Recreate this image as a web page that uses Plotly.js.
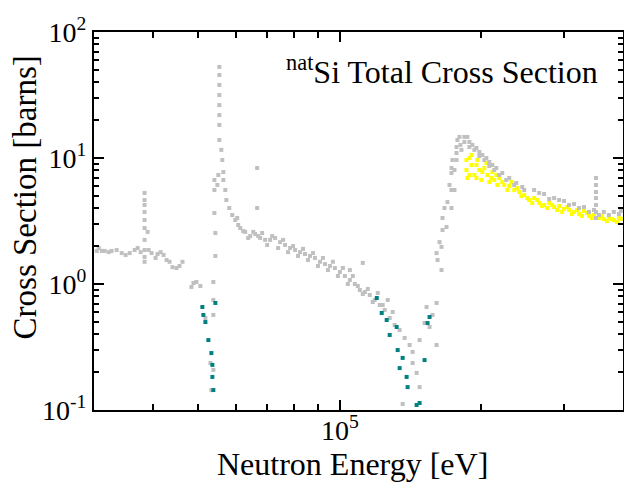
<!DOCTYPE html>
<html>
<head>
<meta charset="utf-8">
<script src="https://cdn.plot.ly/plotly-3.0.1.min.js"></script>
<style>html,body{margin:0;padding:0;background:#fff;}#chart{width:624px;height:491px;}</style>
</head>
<body>
<div id="chart"></div>
<script>
// Grey series (evaluated total cross section), energy [eV] / cross section [barns]
const greyE = [30410,31160,31620,32700,34360,35730,36610,37150,37700,
  38430,38430,38430,38430,38430,38430,38430,38430,38430,38430,39010,
  39770,40950,42170,42800,44060,44940,46270,48340,49530,50500,
  53820,53820,53040,53820,53300,
  54090,54090,54090,54350,54350,
  55420,55420,55420,55420,55420,55420,55420,55420,
  55960,56230,56510,56510,55150,54880,57060,57350,58180,59040,59910,60790,61390,62900,64450,66060,67030,68340,
  66690,66690,69350,71070,72830,74620,76450,78360,80300,82280,84310,86400,88510,90710,92950,95240,97590,
  100000,102470,105000,107600,110250,112980,115750,118600,121550,124540,127620,130750,134000,137310,140700,142780,145600,147750,
  135980,152870,160530,151390,147750,142780,160530,155140,157400,111870,105000,
  164480,161320,160530,164480,162890,165280,168530,165280,166910,172700,169350,172700,175220,171030,172700,172700,175220,173540,
  177010,177010,177010,177830,179560,183980,186680,188540,191330,195120,197970,200900,204840,207860,210940,215070,221460,229180,
  237140,244290,258880,271830,285490,299740,314770,330450,347000,364180,382400,395800,180460,181350,
  350400,350400,350400,350400,350400,350400,350400,
  60490,62290,63830,65430,67680,70040,71770,73900,75730,77600,79510,81470,83480,85540,87660,89820,92040,94320,96650,99030,
  101480,103970,106540,109170,111870,114630,117460,120370,123340,126380,129500,
  183980,188540,193200,197970,202860,207860,213000,218270,225840,234840,246600,265280,278610,292540,307160,322540,338660,355530,373250,392020,
  30710,32240,33520,35030,39200,40560,41560,43430,45600,48820,51760,53820];
const greyS = [1.83,1.83,1.83,1.83,1.76,1.76,1.86,1.93,1.79,
  5.28,4.64,4.24,3.73,3.22,2.78,2.24,1.86,1.64,1.50,2.59,
  1.76,1.73,1.70,1.55,1.36,1.34,1.50,0.947,1.037,0.964,
  0.568,1.037,0.236,0.208,0.144,
  6.69,5.57,3.66,2.54,1.67,
  52.8,45.6,38.0,31.6,26.3,21.9,18.3,13.9,
  11.6,9.64,7.74,6.69,7.33,6.11,5.57,4.64,4.01,3.53,3.22,2.94,2.78,2.59,2.40,2.49,2.40,2.54,
  8.33,4.01,2.24,2.24,2.32,2.15,2.04,1.93,1.86,1.79,1.73,1.67,1.61,1.50,1.44,1.39,1.34,
  1.245,1.157,1.076,1.0,0.896,0.864,0.818,0.746,0.681,0.622,0.537,0.473,0.431,0.373,0.328,0.289,0.197,0.152,
  0.1116,0.657,0.707,0.490,0.359,0.236,0.328,0.456,0.568,1.47,1.29,
  1.29,1.55,1.76,1.97,2.15,2.68,2.83,3.34,4.01,4.01,4.47,5.57,5.57,6.11,7.60,8.33,8.03,9.64,
  9.64,10.96,12.23,13.9,14.7,14.7,14.7,13.4,12.7,12.0,11.16,10.56,10.0,9.30,8.80,8.33,7.60,6.94,
  6.33,5.89,5.57,5.18,4.81,4.56,4.31,4.08,3.87,3.73,3.73,3.80,12.7,11.6,
  6.94,6.11,5.37,4.81,4.24,3.73,3.34,
  3.34,2.63,2.32,2.59,2.32,2.04,2.40,1.93,2.24,1.79,2.00,1.67,1.90,1.55,1.76,1.39,1.61,1.29,1.50,1.157,
  1.34,1.0,1.157,0.964,0.833,0.913,0.720,0.848,0.681,0.746,0.600,
  13.4,12.23,11.6,10.37,9.64,8.64,8.03,7.33,6.69,6.11,5.57,5.28,4.73,4.64,4.24,4.01,3.73,3.53,3.53,3.59,
  1.93,1.79,1.86,1.70,1.86,1.61,1.79,1.50,1.39,1.018,0.537,0.746];

// Teal series (dips)
const tealE = [51000,54350,51250,51760,52520,53300,53560,53820,53560,
  119790,122740,125760,127620,132050,132700,135980,134000,138650,139330,147750,145600,151390,153620,155140];
const tealS = [0.657,0.707,0.568,0.499,0.359,0.283,0.183,0.144,0.228,
  0.774,0.589,0.518,0.394,0.456,0.299,0.259,0.215,0.183,0.152,0.1136,0.1096,0.249,0.490,0.547];

// Yellow series (high-energy data)
const yellowE = [185820,185820,186680,190450,190450,193200,196010,197970,199900,202860,205880,207860,210940,213000,
  216120,218270,223660,226990,231480,234840,240640,246600,252630,258880,265280,271830,278610,285490,292540,
  299740,307160,314770,322540,330450,338660,347000,355530,364180,373250,382400,392020,
  188540,188540,195120,195120,200900,204840,209890,215070,221460,229180,238320,243070,250280,256450,262720,
  269190,275900,282750,289730,296900,304180,311640,319360,327230,335310,343560,360680,369580,378700,388150,395800];
const yellowS = [9.64,8.03,6.94,10.56,8.80,7.33,9.64,8.03,6.69,8.33,7.33,6.45,7.74,6.69,
  6.11,6.94,6.11,5.57,6.45,5.57,5.37,5.09,4.64,4.81,4.39,4.24,4.39,4.08,4.16,
  3.94,3.87,3.73,3.59,3.80,3.47,3.53,3.34,3.28,3.40,3.22,3.34,
  10.0,7.33,8.80,6.94,7.74,9.13,6.94,7.33,6.45,6.00,5.78,4.99,4.81,4.39,4.64,
  4.16,4.01,4.24,3.87,3.73,4.08,3.59,3.87,3.47,3.66,3.34,3.47,3.16,3.28,3.10,3.28];

// Axis ticks
const xTickVals = [1e5];
const xTickText = ['10<sup>5</sup>'];
const xMinorVals = [40000,50000,60000,70000,80000,90000,200000,300000];
const yTickVals = [0.1,1,10,100];
const yTickText = ['10<sup>-1</sup>','10<sup>0</sup>','10<sup>1</sup>','10<sup>2</sup>'];
const yMinorVals = [0.2,0.3,0.4,0.5,0.6,0.7,0.8,0.9,2,3,4,5,6,7,8,9,20,30,40,50,60,70,80,90];

const mk = (c, s) => ({symbol:'square', size:s, color:c, line:{width:0}});
const data = [
  {x:yellowE, y:yellowS, type:'scatter', mode:'markers', marker:mk('#ffff00',4), hoverinfo:'x+y'},
  {x:greyE, y:greyS, type:'scatter', mode:'markers', marker:mk('#c0c0c0',4), hoverinfo:'x+y'},
  {x:tealE, y:tealS, type:'scatter', mode:'markers', marker:mk('#008080',4), hoverinfo:'x+y'}
];

const font = 'Liberation Serif, Times New Roman, serif';
const layout = {
  width:624, height:491,
  margin:{l:94, r:1, t:32, b:81},
  paper_bgcolor:'#fff', plot_bgcolor:'#fff',
  showlegend:false,
  font:{family:font, color:'#000', size:28},
  xaxis:{
    type:'log', range:[Math.log10(30000), Math.log10(400000)],
    tickmode:'array', tickvals:xTickVals, ticktext:xTickText,
    ticks:'inside', ticklen:10, tickwidth:2, tickcolor:'#000',
    minor:{tickmode:'array', tickvals:xMinorVals, ticks:'inside', ticklen:6, tickwidth:2, tickcolor:'#000', showgrid:false},
    showline:true, linecolor:'#000', linewidth:2, mirror:'allticks',
    showgrid:false, zeroline:false, ticklabelstandoff:-6,
    tickfont:{family:font, size:28, color:'#000'}
  },
  yaxis:{
    type:'log', range:[-1, 2],
    tickmode:'array', tickvals:yTickVals, ticktext:yTickText,
    ticks:'inside', ticklen:10, tickwidth:2, tickcolor:'#000',
    minor:{tickmode:'array', tickvals:yMinorVals, ticks:'inside', ticklen:5, tickwidth:2, tickcolor:'#000', showgrid:false},
    showline:true, linecolor:'#000', linewidth:2, mirror:'allticks',
    showgrid:false, zeroline:false,
    tickfont:{family:font, size:28, color:'#000'}
  },
  annotations:[
    {xref:'paper', yref:'paper', x:0.957, y:0.9, xanchor:'right', yanchor:'middle',
     text:'<sup>nat</sup>Si Total Cross Section', showarrow:false,
     font:{family:font, size:32, color:'#000'}},
    {xref:'paper', yref:'paper', x:0.488, y:-0.142, xanchor:'center', yanchor:'middle',
     text:'Neutron Energy [eV]', showarrow:false,
     font:{family:font, size:32, color:'#000'}},
    {xref:'paper', yref:'paper', x:-0.130, y:0.563, xanchor:'center', yanchor:'middle', textangle:-90,
     text:'Cross Section [barns]', showarrow:false,
     font:{family:font, size:33, color:'#000'}}
  ]
};
Plotly.newPlot('chart', data, layout, {displayModeBar:false, staticPlot:true});
</script>
</body>
</html>
